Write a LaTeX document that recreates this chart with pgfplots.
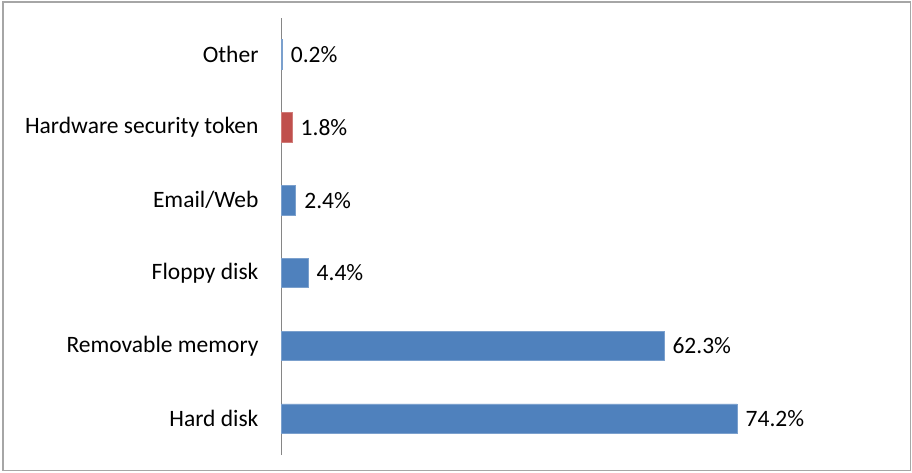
\documentclass[border=0pt]{standalone}
\usepackage{pgfplots}
\pgfplotsset{compat=1.18}
\usepackage{fontspec}
\setmainfont{Carlito}
\definecolor{barblue}{HTML}{4F81BD}
\definecolor{barred}{HTML}{C0504D}
\definecolor{axgray}{HTML}{868686}
\definecolor{framegray}{HTML}{A6A6A6}
\begin{document}
\begin{tikzpicture}[x=1pt,y=1pt]
\useasboundingbox (0,0) rectangle (912,472);
\draw[color=framegray, line width=1.3pt] (3,1.5) rectangle (910.5,470);
\begin{axis}[
  at={(281pt,17pt)}, anchor=south west,
  scale only axis, width=491.7pt, height=437pt,
  xbar, bar width=29.5pt, bar shift=0pt,
  xmin=0, xmax=80, ymin=-0.5, ymax=5.5,
  axis x line=none, axis y line=left,
  axis line style={-, draw=axgray, line width=1pt},
  xtick=\empty,
  ytick={0,1,2,3,4,5},
  yticklabels={Hard disk,Removable memory,Floppy disk,Email/Web,Hardware security token,Other},
  major tick length=0pt,
  yticklabel style={font=\fontsize{23.5}{26}\selectfont, xshift=-19pt},
  point meta=explicit symbolic,
  nodes near coords,
  every node near coord/.append style={font=\fontsize{23.5}{26}\selectfont, anchor=west, xshift=5pt, yshift=0pt},
  clip=false,
]
\addplot[fill=barblue, draw=barblue!75!white, line width=0.6pt] coordinates {
  (74.2,0) [74.2\%]
  (62.3,1) [62.3\%]
  (4.4,2) [4.4\%]
  (2.4,3) [2.4\%]
  (0.2,5) [0.2\%]
};
\addplot[fill=barred, draw=barred!75!white, line width=0.6pt] coordinates {
  (1.8,4) [1.8\%]
};
\end{axis}
\end{tikzpicture}
\end{document}
